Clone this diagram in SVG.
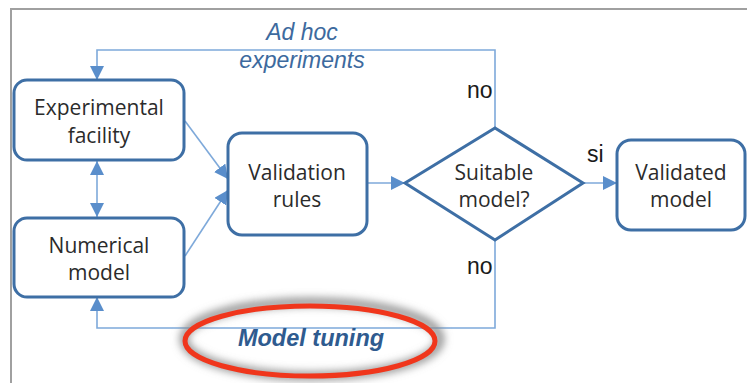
<svg xmlns="http://www.w3.org/2000/svg" width="747" height="383" viewBox="0 0 747 383">
  <style>
    .box { fill: #ffffff; stroke: #3e6fa5; stroke-width: 3; }
    .lbl { font-family: "Open Sans", "Noto Sans", sans-serif; font-size: 21px; fill: #2b2b2b; text-anchor: middle; }
    .cond { font-family: "Liberation Sans", Arial, sans-serif; font-size: 23px; fill: #1a1a1a; }
    .loop { font-family: "Liberation Sans", Arial, sans-serif; font-size: 23px; font-style: italic; fill: #3d6a9e; text-anchor: middle; }
    .tune { font-family: "Liberation Sans", Arial, sans-serif; font-size: 23.5px; font-style: italic; font-weight: bold; fill: #2f5b8f; text-anchor: middle; }
    .wire { fill: none; stroke: #7ea9da; stroke-width: 1.6; }
  </style>
  <defs>
    <marker id="arrowL" viewBox="0 0 14 14" refX="14" refY="7" markerWidth="14" markerHeight="14" markerUnits="userSpaceOnUse" orient="auto-start-reverse">
      <path d="M0,0 L14,7 L0,14 Z" fill="#5a8ecb"/>
    </marker>
    <filter id="haze" x="-20%" y="-40%" width="140%" height="180%">
      <feGaussianBlur stdDeviation="4"/>
    </filter>
  </defs>

  <!-- frame -->
  <rect width="747" height="383" fill="#ffffff"/>
  <path d="M11,383 L11,9 L747,9" fill="none" stroke="#a0a0a0" stroke-width="2"/>

  <!-- connectors -->
  <g id="connectors">
    <path class="wire" d="M495,128 L495,50 L97,50 L97,80" marker-end="url(#arrowL)"/>
    <path class="wire" d="M495,240 L495,328 L97,328 L97,297" marker-end="url(#arrowL)"/>
    <path class="wire" d="M97,161 L97,217" marker-start="url(#arrowL)" marker-end="url(#arrowL)"/>
    <path class="wire" d="M185,121 L228,179" marker-end="url(#arrowL)"/>
    <path class="wire" d="M185,256 L228,190" marker-end="url(#arrowL)"/>
    <path class="wire" d="M367,183 L405,183" marker-end="url(#arrowL)"/>
    <path class="wire" d="M583,183 L617,183" marker-end="url(#arrowL)"/>
    <text class="cond" x="467" y="98">no</text>
    <text class="cond" x="467" y="274">no</text>
    <text class="cond" x="587" y="162">si</text>
    <text class="loop" x="302" y="40">Ad hoc</text>
    <text class="loop" x="302" y="68">experiments</text>
  </g>

  <!-- nodes -->
  <g id="experimental-facility">
    <rect class="box" x="14" y="80" width="170" height="80" rx="13"/>
    <text class="lbl" x="99" y="115">Experimental</text>
    <text class="lbl" x="99" y="143">facility</text>
  </g>
  <g id="numerical-model">
    <rect class="box" x="14" y="218" width="170" height="79" rx="13"/>
    <text class="lbl" x="99" y="253">Numerical</text>
    <text class="lbl" x="99" y="280">model</text>
  </g>
  <g id="validation-rules">
    <rect class="box" x="228" y="133" width="139" height="102" rx="14"/>
    <text class="lbl" x="297" y="180">Validation</text>
    <text class="lbl" x="297" y="207">rules</text>
  </g>
  <g id="suitable-model">
    <path class="box" d="M495,128 L583,183 L495,240 L405,183 Z"/>
    <text class="lbl" x="494" y="180">Suitable</text>
    <text class="lbl" x="494" y="207">model?</text>
  </g>
  <g id="validated-model">
    <rect class="box" x="617" y="140" width="128" height="90" rx="14"/>
    <text class="lbl" x="681" y="180">Validated</text>
    <text class="lbl" x="681" y="207">model</text>
  </g>

  <!-- highlighted loop label -->
  <g id="model-tuning">
    <ellipse cx="312" cy="339" rx="128" ry="37" fill="none" stroke="#8a8a8a" stroke-width="8" filter="url(#haze)"/>
    <ellipse cx="310" cy="341" rx="125" ry="35" fill="none" stroke="#f0361c" stroke-width="5"/>
    <text class="tune" x="311" y="346">Model tuning</text>
  </g>
</svg>
